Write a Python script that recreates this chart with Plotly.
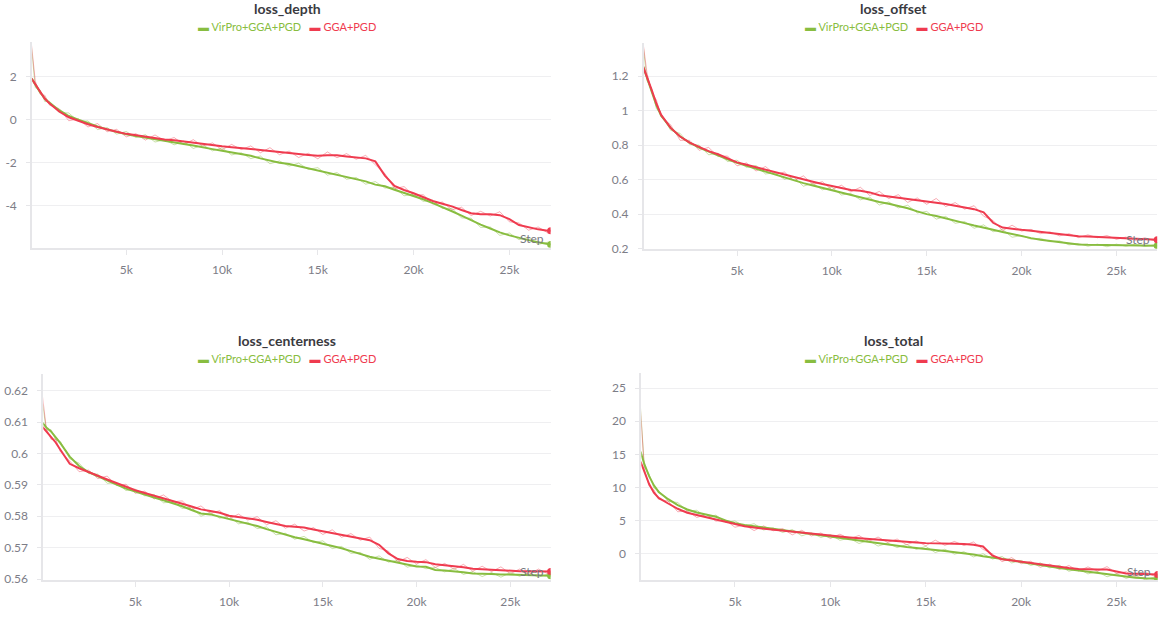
import plotly.graph_objects as go

# ---------------- data ----------------
STEPS = [50, 250, 500, 750, 1000, 1500, 2000, 2500, 3000, 3500, 4000, 4500, 5000, 5500,
         6000, 6500, 7000, 7500, 8000, 8500, 9000, 9500, 10000, 10500, 11000, 11500,
         12000, 12500, 13000, 13500, 14000, 14500, 15000, 15500, 16000, 16500, 17000,
         17500, 18000, 18500, 19000, 19500, 20000, 20500, 21000, 21500, 22000, 22500,
         23000, 23500, 24000, 24500, 25000, 25500, 26000, 26500, 27000, 27150]

SERIES = ["VirPro+GGA+PGD", "GGA+PGD"]

# loss_depth
DEPTH_VIRPRO = [1.92, 1.62, 1.28, 0.98, 0.78, 0.44, 0.17, 0.00, -0.17, -0.32, -0.45, -0.57, -0.68,
                -0.76, -0.84, -0.91, -0.99, -1.06, -1.13, -1.20, -1.27, -1.37, -1.45, -1.53, -1.61,
                -1.68, -1.80, -1.91, -2.00, -2.06, -2.16, -2.24, -2.36, -2.44, -2.56, -2.66, -2.76,
                -2.87, -3.02, -3.10, -3.26, -3.40, -3.55, -3.70, -3.88, -4.06, -4.26, -4.46, -4.68,
                -4.88, -5.06, -5.24, -5.38, -5.50, -5.60, -5.70, -5.78, -5.80]
DEPTH_VIRPRO_RAW = [3.40, 1.49, 1.38, 0.84, 0.85, 0.33, 0.31, -0.08, -0.06, -0.46, -0.37, -0.67, -0.55,
                    -0.83, -0.70, -1.04, -0.93, -1.17, -1.00, -1.34, -1.17, -1.45, -1.31, -1.64, -1.54,
                    -1.81, -1.69, -2.05, -1.92, -2.16, -2.02, -2.31, -2.23, -2.58, -2.46, -2.77, -2.69,
                    -3.00, -2.88, -3.18, -3.15, -3.54, -3.47, -3.80, -3.75, -4.13, -4.12, -4.57, -4.58,
                    -5.01, -4.99, -5.38, -5.27, -5.58, -5.47, -5.80, -5.70, -5.80]
DEPTH_GGA = [1.92, 1.65, 1.30, 0.97, 0.75, 0.38, 0.11, -0.06, -0.21, -0.34, -0.46, -0.56, -0.66,
             -0.73, -0.79, -0.85, -0.92, -0.96, -1.02, -1.09, -1.12, -1.18, -1.24, -1.28, -1.31,
             -1.36, -1.41, -1.46, -1.53, -1.57, -1.60, -1.64, -1.68, -1.66, -1.66, -1.71, -1.76,
             -1.80, -1.94, -2.60, -3.08, -3.27, -3.42, -3.60, -3.78, -3.91, -4.03, -4.20, -4.35,
             -4.40, -4.40, -4.44, -4.62, -4.90, -5.00, -5.10, -5.16, -5.17]
DEPTH_GGA_RAW = [3.50, 1.79, 1.19, 1.13, 0.67, 0.51, -0.05, 0.04, -0.34, -0.18, -0.56, -0.45, -0.80,
                 -0.65, -0.95, -0.71, -0.98, -0.83, -1.16, -0.93, -1.23, -1.08, -1.40, -1.15, -1.39,
                 -1.22, -1.54, -1.30, -1.63, -1.46, -1.76, -1.56, -1.82, -1.50, -1.77, -1.58, -1.84,
                 -1.66, -2.10, -2.50, -3.21, -3.11, -3.52, -3.49, -3.92, -3.83, -4.19, -4.07, -4.46,
                 -4.26, -4.48, -4.28, -4.75, -4.80, -5.14, -4.99, -5.26, -5.17]

# loss_offset
OFFSET_VIRPRO = [1.255, 1.19, 1.11, 1.03, 0.97, 0.90, 0.85, 0.815, 0.786, 0.762, 0.742, 0.718, 0.697,
                 0.680, 0.664, 0.649, 0.633, 0.616, 0.598, 0.580, 0.566, 0.552, 0.538, 0.525, 0.511,
                 0.499, 0.484, 0.471, 0.460, 0.449, 0.434, 0.416, 0.400, 0.389, 0.374, 0.361, 0.348,
                 0.334, 0.320, 0.309, 0.297, 0.284, 0.271, 0.261, 0.252, 0.244, 0.236, 0.229, 0.224,
                 0.222, 0.221, 0.220, 0.219, 0.219, 0.218, 0.218, 0.217, 0.217]
OFFSET_VIRPRO_RAW = [1.38, 1.174, 1.123, 1.012, 0.979, 0.886, 0.868, 0.804, 0.800, 0.744, 0.753, 0.705,
                     0.713, 0.671, 0.682, 0.633, 0.640, 0.602, 0.614, 0.562, 0.579, 0.541, 0.556, 0.511,
                     0.520, 0.483, 0.498, 0.453, 0.471, 0.436, 0.452, 0.407, 0.416, 0.371, 0.387, 0.347,
                     0.357, 0.318, 0.338, 0.298, 0.311, 0.266, 0.276, 0.255, 0.260, 0.240, 0.245, 0.222,
                     0.230, 0.214, 0.226, 0.211, 0.226, 0.214, 0.226, 0.212, 0.222, 0.217]
OFFSET_GGA = [1.255, 1.20, 1.12, 1.04, 0.975, 0.90, 0.85, 0.815, 0.788, 0.765, 0.747, 0.722, 0.700,
              0.686, 0.672, 0.656, 0.640, 0.626, 0.613, 0.600, 0.588, 0.575, 0.563, 0.550, 0.540,
              0.536, 0.526, 0.510, 0.503, 0.498, 0.490, 0.483, 0.477, 0.469, 0.459, 0.449, 0.440,
              0.429, 0.410, 0.350, 0.322, 0.314, 0.309, 0.304, 0.297, 0.291, 0.285, 0.278, 0.272,
              0.270, 0.268, 0.265, 0.263, 0.260, 0.258, 0.255, 0.253, 0.252]
OFFSET_GGA_RAW = [1.39, 1.220, 1.105, 1.062, 0.964, 0.918, 0.828, 0.828, 0.770, 0.787, 0.734, 0.737,
                  0.680, 0.697, 0.650, 0.676, 0.631, 0.644, 0.593, 0.622, 0.573, 0.588, 0.541, 0.568,
                  0.529, 0.556, 0.508, 0.532, 0.490, 0.513, 0.468, 0.494, 0.457, 0.491, 0.444, 0.467,
                  0.429, 0.449, 0.388, 0.363, 0.304, 0.336, 0.302, 0.312, 0.287, 0.297, 0.274, 0.287,
                  0.264, 0.280, 0.263, 0.276, 0.254, 0.267, 0.248, 0.263, 0.246, 0.252]

# loss_centerness
CENTER_VIRPRO = [0.6097, 0.6083, 0.6070, 0.6052, 0.6033, 0.5990, 0.5960, 0.5941, 0.5927, 0.5914,
                 0.5901, 0.5888, 0.5878, 0.5869, 0.5860, 0.5851, 0.5842, 0.5832, 0.5820, 0.5809,
                 0.5806, 0.5799, 0.5791, 0.5783, 0.5776, 0.5769, 0.5759, 0.5750, 0.5741, 0.5733,
                 0.5727, 0.5720, 0.5714, 0.5706, 0.5698, 0.5689, 0.5680, 0.5671, 0.5665, 0.5659,
                 0.5653, 0.5647, 0.5640, 0.5639, 0.5629, 0.5627, 0.5625, 0.5622, 0.5618, 0.5616,
                 0.5616, 0.5615, 0.5614, 0.5614, 0.5613, 0.5612, 0.5611, 0.5611]
CENTER_VIRPRO_RAW = [0.6160, 0.6075, 0.6076, 0.6043, 0.6038, 0.5983, 0.5969, 0.5936, 0.5934, 0.5905,
                     0.5906, 0.5882, 0.5886, 0.5865, 0.5869, 0.5843, 0.5846, 0.5825, 0.5828, 0.5800,
                     0.5812, 0.5794, 0.5800, 0.5776, 0.5781, 0.5761, 0.5766, 0.5741, 0.5746, 0.5727,
                     0.5736, 0.5716, 0.5722, 0.5697, 0.5704, 0.5682, 0.5685, 0.5663, 0.5674, 0.5654,
                     0.5660, 0.5638, 0.5645, 0.5633, 0.5637, 0.5623, 0.5634, 0.5615, 0.5624, 0.5608,
                     0.5621, 0.5606, 0.5621, 0.5609, 0.5621, 0.5606, 0.5616, 0.5611]
CENTER_GGA = [0.6085, 0.6070, 0.6053, 0.6035, 0.6012, 0.5967, 0.5953, 0.5940, 0.5929, 0.5917,
              0.5905, 0.5894, 0.5883, 0.5874, 0.5866, 0.5858, 0.5850, 0.5840, 0.5831, 0.5822,
              0.5817, 0.5811, 0.5802, 0.5798, 0.5794, 0.5789, 0.5782, 0.5775, 0.5769, 0.5767,
              0.5764, 0.5758, 0.5752, 0.5746, 0.5741, 0.5736, 0.5730, 0.5724, 0.5709, 0.5682,
              0.5664, 0.5658, 0.5655, 0.5654, 0.5647, 0.5644, 0.5642, 0.5638, 0.5633, 0.5631,
              0.5630, 0.5628, 0.5626, 0.5625, 0.5625, 0.5624, 0.5624, 0.5624]
CENTER_GGA_RAW = [0.6180, 0.6080, 0.6045, 0.6046, 0.6006, 0.5976, 0.5942, 0.5947, 0.5920, 0.5928,
                  0.5898, 0.5902, 0.5873, 0.5880, 0.5855, 0.5868, 0.5846, 0.5849, 0.5821, 0.5833,
                  0.5809, 0.5818, 0.5791, 0.5807, 0.5788, 0.5799, 0.5773, 0.5786, 0.5762, 0.5775,
                  0.5753, 0.5764, 0.5742, 0.5757, 0.5733, 0.5745, 0.5724, 0.5734, 0.5698, 0.5689,
                  0.5655, 0.5669, 0.5648, 0.5662, 0.5637, 0.5650, 0.5631, 0.5647, 0.5625, 0.5641,
                  0.5624, 0.5639, 0.5617, 0.5632, 0.5615, 0.5632, 0.5617, 0.5624]

# loss_total
TOTAL_VIRPRO = [15.4, 13.5, 11.7, 10.3, 9.3, 8.2, 7.3, 6.65, 6.2, 5.85, 5.55, 5.0, 4.55, 4.3, 4.1,
                3.9, 3.7, 3.48, 3.25, 3.05, 2.85, 2.65, 2.45, 2.3, 2.1, 1.85, 1.65, 1.5, 1.32, 1.15,
                0.95, 0.8, 0.7, 0.52, 0.35, 0.2, 0.05, -0.18, -0.45, -0.62, -0.8, -1.05, -1.3, -1.55,
                -1.8, -2.0, -2.2, -2.4, -2.58, -2.75, -2.95, -3.15, -3.4, -3.55, -3.7, -3.78, -3.83,
                -3.84]
TOTAL_VIRPRO_RAW = [22.0, 13.14, 11.98, 9.90, 9.50, 7.88, 7.70, 6.41, 6.52, 5.45, 5.79, 4.72, 4.91,
                    4.10, 4.50, 3.54, 3.86, 3.16, 3.61, 2.65, 3.13, 2.41, 2.85, 1.98, 2.30, 1.49, 1.97,
                    1.10, 1.56, 0.87, 1.35, 0.60, 1.06, 0.12, 0.63, -0.12, 0.25, -0.54, -0.05, -0.86,
                    -0.48, -1.45, -1.06, -1.83, -1.44, -2.20, -1.80, -2.72, -2.30, -3.11, -2.75,
                    -3.55, -3.08, -3.79, -3.34, -4.00, -3.59, -3.84]
TOTAL_GGA = [13.9, 12.3, 10.5, 9.2, 8.4, 7.55, 6.75, 6.15, 5.8, 5.45, 5.15, 4.7, 4.35, 4.1, 3.9,
             3.75, 3.6, 3.4, 3.2, 3.05, 2.95, 2.82, 2.7, 2.55, 2.42, 2.3, 2.15, 2.02, 1.92, 1.85,
             1.75, 1.65, 1.55, 1.55, 1.52, 1.45, 1.4, 1.32, 1.05, -0.35, -0.9, -1.1, -1.3, -1.5,
             -1.7, -1.85, -2.0, -2.2, -2.35, -2.45, -2.45, -2.45, -2.7, -3.05, -3.1, -3.15, -3.2,
             -3.2]
TOTAL_GGA_RAW = [21.5, 12.71, 10.19, 9.65, 8.18, 7.91, 6.30, 6.42, 5.44, 5.90, 4.88, 5.02, 3.95,
                 4.33, 3.45, 4.16, 3.42, 3.76, 2.80, 3.50, 2.64, 3.09, 2.25, 2.91, 2.20, 2.71, 1.79,
                 2.47, 1.65, 2.17, 1.30, 1.88, 1.15, 2.00, 1.21, 1.81, 1.18, 1.73, 0.60, -0.08,
                 -1.26, -0.65, -1.57, -1.19, -2.11, -1.63, -2.45, -1.84, -2.67, -2.05, -2.68, -2.00,
                 -3.06, -2.78, -3.51, -2.84, -3.47, -3.20]

TITLES = ["loss_depth", "loss_offset", "loss_centerness", "loss_total"]
X_TICKS = [5000, 10000, 15000, 20000, 25000]
X_TICK_LABELS = ["5k", "10k", "15k", "20k", "25k"]
DEPTH_TICKS = [-4, -2, 0, 2]
DEPTH_TICK_LABELS = ["-4", "-2", "0", "2"]
OFFSET_TICKS = [0.2, 0.4, 0.6, 0.8, 1.0, 1.2]
OFFSET_TICK_LABELS = ["0.2", "0.4", "0.6", "0.8", "1", "1.2"]
CENTER_TICKS = [0.56, 0.57, 0.58, 0.59, 0.60, 0.61, 0.62]
CENTER_TICK_LABELS = ["0.56", "0.57", "0.58", "0.59", "0.6", "0.61", "0.62"]
TOTAL_TICKS = [0, 5, 10, 15, 20, 25]
TOTAL_TICK_LABELS = ["0", "5", "10", "15", "20", "25"]

# ---------------- styling ----------------
W, H = 1165, 617
FONT = "Lato, 'Noto Sans', sans-serif"
GREEN = "#88bd40"
RED = "#ef3b4f"
GREEN_RAW = "rgba(136,189,64,0.45)"
RED_RAW = "rgba(239,59,79,0.42)"
AXIS = "#e6e6e9"
GRID = "#efeff1"
TICKC = "#7d7d87"
TITLEC = "#3a3a3f"


def px_x(a, b):
    return [a / W, b / W]


def px_y(top, bottom):
    return [1 - bottom / H, 1 - top / H]


panels = [
    dict(title=TITLES[0], green=DEPTH_VIRPRO, green_raw=DEPTH_VIRPRO_RAW, red=DEPTH_GGA,
         red_raw=DEPTH_GGA_RAW, xdom=px_x(32.2, 550.6), ydom=px_y(42.5, 250.7),
         yrange=[-5.96, 3.61], tv=DEPTH_TICKS, tt=DEPTH_TICK_LABELS, cx=287, ty=9, ly=27.3),
    dict(title=TITLES[1], green=OFFSET_VIRPRO, green_raw=OFFSET_VIRPRO_RAW, red=OFFSET_GGA,
         red_raw=OFFSET_GGA_RAW, xdom=px_x(643.9, 1157.2), ydom=px_y(43.0, 251.5),
         yrange=[0.2, 1.395], tv=OFFSET_TICKS, tt=OFFSET_TICK_LABELS, cx=893.6, ty=9, ly=27.3),
    dict(title=TITLES[2], green=CENTER_VIRPRO, green_raw=CENTER_VIRPRO_RAW, red=CENTER_GGA,
         red_raw=CENTER_GGA_RAW, xdom=px_x(43.3, 550.6), ydom=px_y(378.3, 586.7),
         yrange=[0.5597, 0.6253], tv=CENTER_TICKS, tt=CENTER_TICK_LABELS, cx=287, ty=344, ly=362.7),
    dict(title=TITLES[3], green=TOTAL_VIRPRO, green_raw=TOTAL_VIRPRO_RAW, red=TOTAL_GGA,
         red_raw=TOTAL_GGA_RAW, xdom=px_x(641.3, 1157.6), ydom=px_y(377.7, 586.7),
         yrange=[-4.04, 27.25], tv=TOTAL_TICKS, tt=TOTAL_TICK_LABELS, cx=893.6, ty=344, ly=362.7),
]

fig = go.Figure()
layout = dict(
    width=W, height=H, autosize=False,
    margin=dict(l=0, r=0, t=0, b=0),
    paper_bgcolor="white", plot_bgcolor="white",
    showlegend=False,
    font=dict(family=FONT, color=TICKC, size=12),
    annotations=[],
)

for i, p in enumerate(panels):
    n = "" if i == 0 else str(i + 1)
    xref, yref = "x" + n, "y" + n
    common = dict(xaxis=xref, yaxis=yref, hoverinfo="skip")
    fig.add_trace(go.Scatter(x=STEPS, y=p["green_raw"], mode="lines",
                             line=dict(color=GREEN_RAW, width=1), name=SERIES[0], **common))
    fig.add_trace(go.Scatter(x=STEPS, y=p["red_raw"], mode="lines",
                             line=dict(color=RED_RAW, width=1), name=SERIES[1], **common))
    fig.add_trace(go.Scatter(x=STEPS, y=p["green"], mode="lines",
                             line=dict(color=GREEN, width=2), name=SERIES[0], **common))
    fig.add_trace(go.Scatter(x=STEPS, y=p["red"], mode="lines",
                             line=dict(color=RED, width=2), name=SERIES[1], **common))
    fig.add_trace(go.Scatter(x=STEPS[-1:], y=p["green"][-1:], mode="markers",
                             marker=dict(color=GREEN, size=7), name=SERIES[0], **common))
    fig.add_trace(go.Scatter(x=STEPS[-1:], y=p["red"][-1:], mode="markers",
                             marker=dict(color=RED, size=7), name=SERIES[1], **common))

    layout["xaxis" + n] = dict(
        domain=p["xdom"], anchor=yref, range=[90, 27150],
        showgrid=False, zeroline=False, showline=True, linecolor=AXIS, linewidth=2,
        ticks="outside", ticklen=5, tickcolor=AXIS, tickwidth=1,
        tickvals=X_TICKS, ticktext=X_TICK_LABELS, ticklabelstandoff=5,
        tickfont=dict(family=FONT, size=12, color=TICKC), fixedrange=True,
    )
    layout["yaxis" + n] = dict(
        domain=p["ydom"], anchor=xref, range=p["yrange"],
        showgrid=True, gridcolor=GRID, gridwidth=1, zeroline=False,
        showline=True, linecolor=AXIS, linewidth=2,
        ticks="outside", ticklen=4, tickcolor=AXIS, tickwidth=1,
        tickvals=p["tv"], ticktext=p["tt"], ticklabelstandoff=7,
        tickfont=dict(family=FONT, size=12, color=TICKC), fixedrange=True,
    )
    # panel title
    layout["annotations"].append(dict(
        text=p["title"], xref="paper", yref="paper", x=p["cx"] / W, y=1 - p["ty"] / H,
        xanchor="center", yanchor="middle", showarrow=False,
        font=dict(family=FONT, size=14, color=TITLEC, weight="bold")))
    # legend row
    legend_text = (f"<span style='color:{GREEN}'>▬ {SERIES[0]}</span>"
                   f"   <span style='color:{RED}'>▬ {SERIES[1]}</span>")
    layout["annotations"].append(dict(
        text=legend_text, xref="paper", yref="paper", x=p["cx"] / W, y=1 - p["ly"] / H,
        xanchor="center", yanchor="middle", showarrow=False,
        font=dict(family=FONT, size=11, color=GREEN)))
    # axis caption
    layout["annotations"].append(dict(
        text="Step", xref=xref + " domain", yref=yref + " domain", x=1, y=0,
        xanchor="right", yanchor="middle", xshift=-5, yshift=9, showarrow=False,
        font=dict(family=FONT, size=12, color="#77777f")))

fig.update_layout(**layout)
fig.write_html("out.html", include_plotlyjs=True,
               config={"displayModeBar": False},
               post_script="document.body.style.margin='0';")
